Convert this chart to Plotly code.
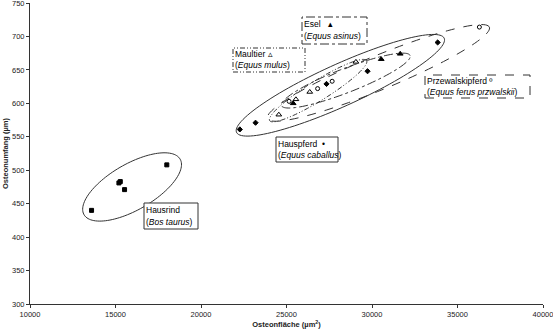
import numpy as np
import plotly.graph_objects as go

# ---- data (Osteonfläche µm², Osteonumfang µm) ----
hausrind_x = [13600, 15200, 15280, 15530, 18000]
hausrind_y = [440, 481, 483, 471, 508]

hauspferd_x = [22270, 23190, 27340, 29740, 33840]
hauspferd_y = [561, 571, 629, 648, 691]

esel_x = [25390, 30540, 31650]
esel_y = [600, 666, 674]

maultier_x = [24550, 25550, 26360, 29060]
maultier_y = [583, 606, 617, 662]

przewalski_x = [25150, 26820, 27670, 36280]
przewalski_y = [603, 622, 633, 714]

x_ticks = [10000, 15000, 20000, 25000, 30000, 35000, 40000]
y_ticks = [300, 350, 400, 450, 500, 550, 600, 650, 700, 750]

# ---- layout geometry ----
W, H = 553, 334
ML, MR, MT, MB = 30, 10, 3, 30
PW, PH = W - ML - MR, H - MT - MB
XR = [10000, 40000]
YR = [300, 750]
pxx = PW / (XR[1] - XR[0])
pxy = PH / (YR[1] - YR[0])

font = "Liberation Sans, Arial, sans-serif"

fig = go.Figure()

def scatter(x, y, symbol, size, name):
    fig.add_trace(go.Scatter(x=x, y=y, mode="markers", name=name, hoverinfo="skip",
                             marker=dict(symbol=symbol, size=size, color="black",
                                         line=dict(color="black", width=1))))

scatter(hausrind_x, hausrind_y, "square", 4, "Hausrind")
scatter(hauspferd_x, hauspferd_y, "diamond", 4, "Hauspferd")
scatter(esel_x, esel_y, "triangle-up", 5, "Esel")
scatter(maultier_x, maultier_y, "triangle-up-open", 5, "Maultier")
scatter(przewalski_x, przewalski_y, "circle-open", 4, "Przewalskipferd")

# ---- ellipses (center in data units, semi-axes in px, angle in deg) ----
def ellipse(cx, cy, a, b, ang, dash):
    t = np.linspace(0, 2 * np.pi, 120)
    th = np.radians(ang)
    dxp = a * np.cos(t) * np.cos(th) - b * np.sin(t) * np.sin(th)
    dyp = a * np.cos(t) * np.sin(th) + b * np.sin(t) * np.cos(th)
    xs = cx + dxp / pxx
    ys = cy + dyp / pxy
    path = "M " + " L ".join(f"{x:.2f},{y:.3f}" for x, y in zip(xs, ys)) + " Z"
    fig.add_shape(type="path", path=path, xref="x", yref="y",
                  line=dict(color="#333", width=1, dash=dash))

ellipse(15970, 475, 55.5, 23, 30, "solid")
ellipse(28150, 627, 114, 21, 24.4, "solid")
ellipse(30375, 645.5, 120, 17, 22.4, "dash")
ellipse(28470, 634, 69, 12, 21.3, "dashdot")
ellipse(26850, 619, 57, 10, 31.8, "5px,2px,1px,2px,1px,2px")

# ---- label boxes (pixel coords -> paper) ----
def px2paper(x, y):
    return (x - ML) / PW, (MT + PH - y) / PH

def box(x0, y0, x1, y1, line1, line2, dash):
    p0 = px2paper(x0, y1)
    p1 = px2paper(x1, y0)
    fig.add_shape(type="rect", xref="paper", yref="paper",
                  x0=p0[0], y0=p0[1], x1=p1[0], y1=p1[1],
                  line=dict(color="#333", width=1, dash=dash),
                  fillcolor="white", layer="above")
    h = y1 - y0
    for i, txt in enumerate([line1, line2]):
        tx, ty = px2paper(x0 + 1, y0 + h * (0.27 + 0.45 * i))
        fig.add_annotation(x=tx, y=ty, xref="paper", yref="paper", text=txt,
                           showarrow=False, xanchor="left", yanchor="middle",
                           align="left", borderpad=0,
                           font=dict(family=font, size=8.5, color="black"))

box(144, 203, 198, 229, "Hausrind", "(<i>Bos taurus</i>)", "solid")
box(276, 137, 338, 162, "Hauspferd  •", "(<i>Equus caballus</i>)", "solid")
box(302, 17, 367, 44, "Esel   ▴", "(<i>Equus asinus</i>)", "dashdot")
box(233, 48, 305, 72, "Maultier ▵", "(<i>Equus mulus</i>)", "5px,2px,1px,2px,1px,2px")
box(425, 75, 530, 98, "Przewalskipferd º", "(<i>Equus ferus przwalskii</i>)", "dash")

axis_common = dict(showgrid=False, zeroline=False, showline=True, linecolor="#333",
                   linewidth=1, ticks="outside", ticklen=3, tickcolor="#333",
                   ticklabeloverflow="allow", automargin=False,
                   tickfont=dict(family=font, size=7.5, color="#222"))

fig.update_xaxes(range=XR, tickvals=x_ticks, ticktext=[str(v) for v in x_ticks],
                 title=dict(text="<b>Osteonfläche (µm<sup>2</sup>)</b>", standoff=2,
                            font=dict(family=font, size=7.5, color="#222")),
                 **axis_common)
fig.update_yaxes(range=YR, tickvals=y_ticks, ticktext=[str(v) for v in y_ticks],
                 title=dict(text="<b>Osteonumfang (µm)</b>", standoff=2,
                            font=dict(family=font, size=7.5, color="#222")),
                 **axis_common)

fig.update_layout(width=W, height=H, showlegend=False, hovermode=False,
                  margin=dict(l=ML, r=MR, t=MT, b=MB),
                  paper_bgcolor="white", plot_bgcolor="white",
                  font=dict(family=font))

fig.write_html("out.html", config={"displayModeBar": False},
               post_script="document.body.style.margin='0';document.body.style.overflow='hidden';")
